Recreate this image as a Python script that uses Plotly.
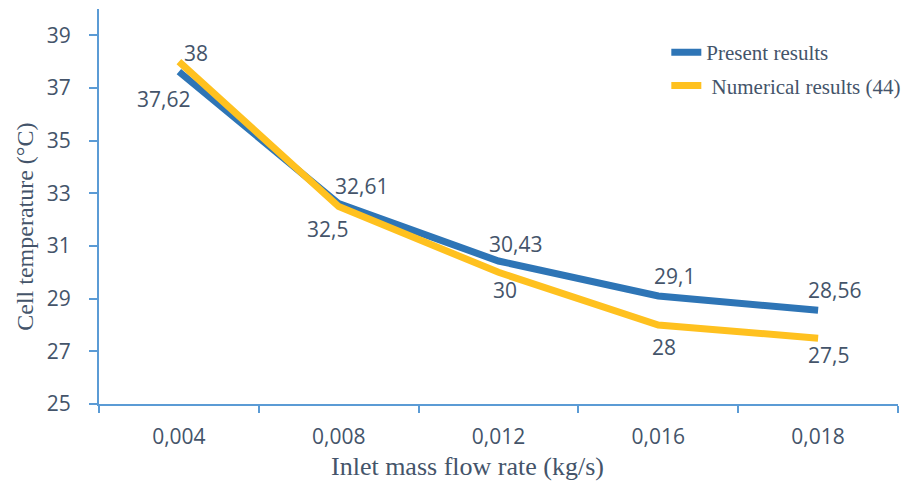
import plotly.graph_objects as go

# Inlet mass flow rates (categorical axis labels, comma decimals)
flow_rates = ["0,004", "0,008", "0,012", "0,016", "0,018"]
# Cell temperature (°C)
present_results = [37.62, 32.61, 30.43, 29.1, 28.56]
numerical_results = [38, 32.5, 30, 28, 27.5]
y_ticks = [25, 27, 29, 31, 33, 35, 37, 39]

BLUE = "#2E75B6"
GOLD = "#FFC11F"
TEXT = "#44546A"
AXIS = "#5B9BD5"
SANS = "Open Sans"
SERIF = "Liberation Serif"

# plot-area geometry in pixels
L, R, T, B = 99, 3, 9, 80
PW, PH = 909 - L - R, 484 - T - B


def fmt(v):
    return f"{v:g}".replace(".", ",")


fig = go.Figure()
fig.add_trace(go.Scatter(
    x=flow_rates, y=present_results, mode="lines", name="Present results",
    legendgroup="a", line=dict(color=BLUE, width=7)))
fig.add_trace(go.Scatter(
    x=flow_rates, y=numerical_results, mode="lines", name=" Numerical results (44)",
    legendgroup="b", line=dict(color=GOLD, width=7)))

# value labels beside each point (pixel offsets from the point)
blue_off = [(-15, -27), (23, 18), (17, 17), (16, 20), (16, 20)]
gold_off = [(17, 9), (-11, -22), (6, -18), (6, -22), (10, -17)]
for vals, offs in ((present_results, blue_off), (numerical_results, gold_off)):
    for cat, v, (dx, dy) in zip(flow_rates, vals, offs):
        fig.add_annotation(x=cat, y=v, xref="x", yref="y", text=fmt(v),
                           showarrow=False, xshift=dx, yshift=dy,
                           font=dict(family=SANS, size=21, color=TEXT))

# axis titles
fig.add_annotation(text="Inlet mass flow rate (kg/s)", xref="paper", yref="paper",
                   x=(471 - L) / PW, y=-(466 - (T + PH)) / PH, showarrow=False,
                   xanchor="center", yanchor="middle",
                   font=dict(family=SERIF, size=26, color=TEXT))
fig.add_annotation(text="Cell temperature (°C)", xref="paper", yref="paper",
                   x=-(L - 24) / PW, y=((T + PH) - 227) / PH, showarrow=False,
                   textangle=-90, xanchor="center", yanchor="middle",
                   font=dict(family=SERIF, size=24, color=TEXT))

fig.update_layout(
    width=909, height=484,
    margin=dict(l=L, r=R, t=T, b=B),
    paper_bgcolor="white", plot_bgcolor="white",
    showlegend=True,
    legend=dict(x=(672 - L) / PW, y=1 - (32 - T) / PH, xanchor="left", yanchor="top",
                bgcolor="rgba(0,0,0,0)", tracegroupgap=3,
                font=dict(family=SERIF, size=21, color=TEXT)),
    xaxis=dict(type="category", range=[-0.5, 4.5], showgrid=False,
               showline=True, linecolor=AXIS, linewidth=2,
               ticks="outside", tickson="boundaries", ticklen=7, tickwidth=2,
               tickcolor=AXIS, ticklabelstandoff=13,
               tickfont=dict(family=SANS, size=21, color=TEXT)),
    yaxis=dict(range=[25, 40], tickvals=y_ticks, showgrid=False, zeroline=False,
               showline=True, linecolor=AXIS, linewidth=2,
               ticks="outside", ticklen=8, tickwidth=2, tickcolor=AXIS,
               ticklabelstandoff=14,
               tickfont=dict(family=SANS, size=21, color=TEXT)),
)

fig.write_html("out.html")
